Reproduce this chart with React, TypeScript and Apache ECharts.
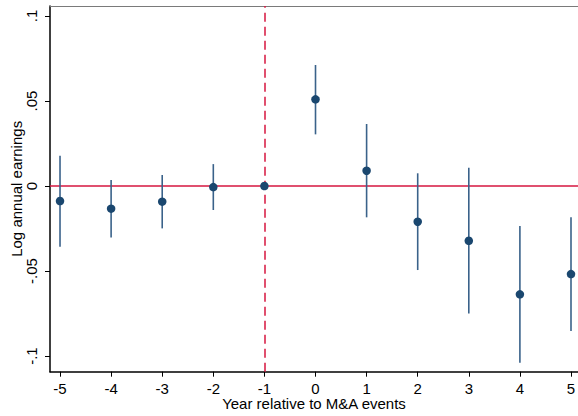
import * as echarts from 'echarts';
import { useEffect, useRef } from 'react';

// year relative to the M&A event
const years = [-5, -4, -3, -2, -1, 0, 1, 2, 3, 4, 5];
// point estimates and 95% CI bounds
const coef = [-0.0088, -0.0133, -0.0092, -0.0006, 0, 0.051, 0.009, -0.021, -0.0322, -0.0637, -0.0518];
const lower = [-0.0357, -0.0302, -0.0249, -0.0141, 0, 0.0304, -0.0184, -0.0494, -0.0749, -0.104, -0.0853];
const upper = [0.0178, 0.0035, 0.0065, 0.0129, 0, 0.0712, 0.0365, 0.0075, 0.0108, -0.0235, -0.0184];
const yTicks = [-0.1, -0.05, 0, 0.05, 0.1];

const font = 'Liberation Sans, Arial, sans-serif';
const red = '#d6163f';
const navy = '#1a476f';

export default function App() {
  const container = useRef<HTMLDivElement | null>(null);

  useEffect(() => {
    if (!container.current) return;
    const chart = echarts.init(container.current, null, { renderer: 'svg' });
    chart.setOption({
      animation: false,
      backgroundColor: '#fff',
      textStyle: { fontFamily: font },
      grid: { left: 50, right: 0, top: 6, bottom: 44.3, outerBoundsMode: 'none' },
      xAxis: [
        {
          type: 'value',
          min: -5.196,
          max: 5.137,
          splitLine: { show: false },
          axisLine: { show: true, onZero: false, lineStyle: { color: '#000', width: 1.5 } },
          axisTick: { show: true, length: 5, customValues: years, lineStyle: { color: '#000', width: 1 } },
          axisLabel: {
            customValues: years,
            margin: 9,
            fontSize: 15,
            lineHeight: 15,
            color: '#000',
            fontFamily: font,
          },
          name: 'Year relative to M&A events',
          nameLocation: 'middle',
          nameGap: 24.5,
          nameMoveOverlap: false,
          nameTextStyle: { fontSize: 15, lineHeight: 15, color: '#000', fontFamily: font },
        },
        {
          type: 'value',
          position: 'top',
          min: -5.196,
          max: 5.137,
          splitLine: { show: false },
          axisTick: { show: false },
          axisLabel: { show: false },
          axisLine: { show: true, onZero: false, lineStyle: { color: '#7a7a7a', width: 1 } },
        },
      ],
      yAxis: {
        type: 'value',
        min: -0.1092,
        max: 0.1059,
        splitLine: { show: false },
        axisLine: { show: true, onZero: false, lineStyle: { color: '#000', width: 1.5 } },
        axisTick: { show: true, length: 5, customValues: yTicks, lineStyle: { color: '#000', width: 1 } },
        axisLabel: {
          customValues: yTicks,
          rotate: 90,
          margin: 11,
          fontSize: 15,
          lineHeight: 15,
          color: '#000',
          fontFamily: font,
          formatter: (v: number) => String(v).replace('0.', '.'),
        },
        name: 'Log annual earnings',
        nameLocation: 'middle',
        nameGap: 26,
        nameRotate: 90,
        nameMoveOverlap: false,
        nameTextStyle: { fontSize: 15, lineHeight: 15, color: '#000', fontFamily: font },
      },
      series: [
        {
          type: 'custom',
          z: 3,
          data: years
            .map((x, i) => [x, lower[i], upper[i]])
            .filter((d) => d[1] !== d[2]),
          encode: { x: 0, y: [1, 2] },
          renderItem: (_params: any, api: any) => {
            const p1 = api.coord([api.value(0), api.value(1)]);
            const p2 = api.coord([api.value(0), api.value(2)]);
            return {
              type: 'line',
              shape: { x1: p1[0], y1: p1[1], x2: p2[0], y2: p2[1] },
              style: { stroke: '#3a628a', lineWidth: 1.6 },
            };
          },
        },
        {
          type: 'scatter',
          z: 4,
          symbol: 'circle',
          symbolSize: 8.5,
          itemStyle: { color: navy, opacity: 1 },
          data: years.map((x, i) => [x, coef[i]]),
          markLine: {
            silent: true,
            symbol: 'none',
            label: { show: false },
            z: 1,
            data: [
              { xAxis: -1, lineStyle: { color: red, width: 1.5, type: [9, 5] } },
              { yAxis: 0, lineStyle: { color: red, width: 1.5, type: 'solid' } },
            ],
          },
        },
      ],
    } as echarts.EChartsOption);
    return () => chart.dispose();
  }, []);

  return (
    <div
      ref={container}
      style={{ position: 'fixed', left: 0, top: 0, width: 578, height: 416 }}
    />
  );
}
